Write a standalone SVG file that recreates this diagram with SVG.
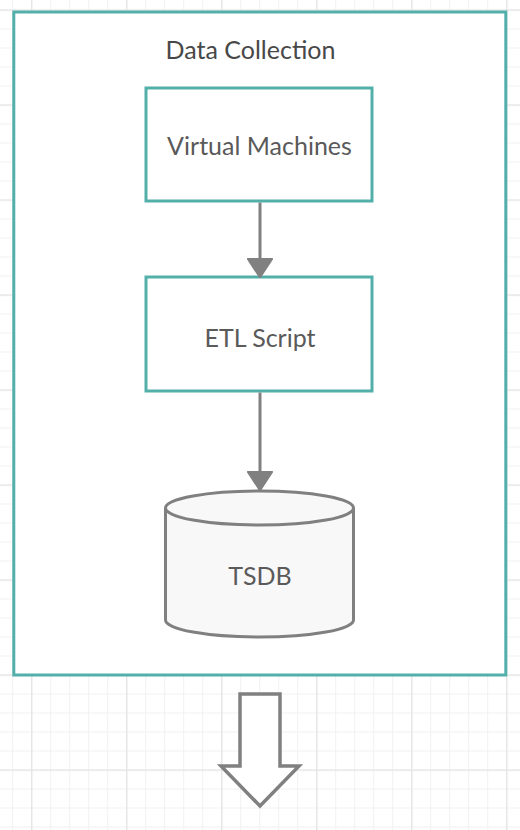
<svg xmlns="http://www.w3.org/2000/svg" width="520" height="830" viewBox="0 0 520 830">
  <defs>
    <pattern id="minor" patternUnits="userSpaceOnUse" x="12.2" y="9.5" width="19" height="19">
      <rect x="0" y="0" width="1" height="19" fill="#f1f1f1"/>
      <rect x="0" y="0" width="19" height="1" fill="#f1f1f1"/>
    </pattern>
    <pattern id="major" patternUnits="userSpaceOnUse" x="31.2" y="9.5" width="95" height="95">
      <rect x="0" y="0" width="1.2" height="95" fill="#e3e3e3"/>
      <rect x="0" y="0" width="95" height="1.2" fill="#e3e3e3"/>
    </pattern>
    <marker id="arrow" viewBox="0 0 21 26" refX="19.5" refY="13" markerWidth="21" markerHeight="26" markerUnits="userSpaceOnUse" orient="auto">
      <path d="M1.5,1.5 L19,13 L1.5,24.5 Z" fill="#808080" stroke="#808080" stroke-width="3" stroke-linejoin="round"/>
    </marker>
  </defs>
  <style>
    .frame { fill: #ffffff; stroke: #52afaa; stroke-width: 3; }
    .box { fill: #ffffff; stroke: #52afaa; stroke-width: 3; }
    .label { font-family: Lato, "Liberation Sans", sans-serif; font-size: 25px; fill: #5a5a5a; text-anchor: middle; }
    .title { fill: #484848; }
    .conn { fill: none; stroke: #808080; stroke-width: 3; }
    .db { fill: #f8f8f8; stroke: #808080; stroke-width: 3; }
    .bigarrow { fill: #ffffff; stroke: #808080; stroke-width: 3.5; stroke-linejoin: miter; }
  </style>

  <rect x="0" y="0" width="520" height="830" fill="#ffffff"/>
  <rect x="0" y="0" width="520" height="830" fill="url(#minor)"/>
  <rect x="0" y="0" width="520" height="830" fill="url(#major)"/>

  <g id="data-collection">
    <rect class="frame" x="13.8" y="12" width="492" height="663"/>
    <text class="label title" x="250.5" y="59">Data Collection</text>
  </g>

  <g id="virtual-machines">
    <rect class="box" x="146" y="88" width="226" height="113"/>
    <text class="label" x="259.5" y="155">Virtual Machines</text>
  </g>

  <g id="etl-script">
    <rect class="box" x="146" y="277" width="226" height="114"/>
    <text class="label" x="260" y="346.5">ETL Script</text>
  </g>

  <g id="tsdb">
    <path class="db" d="M165.5,508 L165.5,620 A94,17 0 0 0 353.5,620 L353.5,508 A94,17 0 0 0 165.5,508 Z"/>
    <path class="db" fill="none" d="M165.5,508 A94,17 0 0 0 353.5,508"/>
    <text class="label" x="260" y="584.5">TSDB</text>
  </g>

  <g id="connectors">
    <line class="conn" x1="260" y1="202.5" x2="260" y2="277" marker-end="url(#arrow)"/>
    <line class="conn" x1="260" y1="392.5" x2="260" y2="490" marker-end="url(#arrow)"/>
  </g>

  <g id="output-arrow">
    <polygon class="bigarrow" points="240,694 280,694 280,766 299,766 260,806 221,766 240,766"/>
  </g>
</svg>
